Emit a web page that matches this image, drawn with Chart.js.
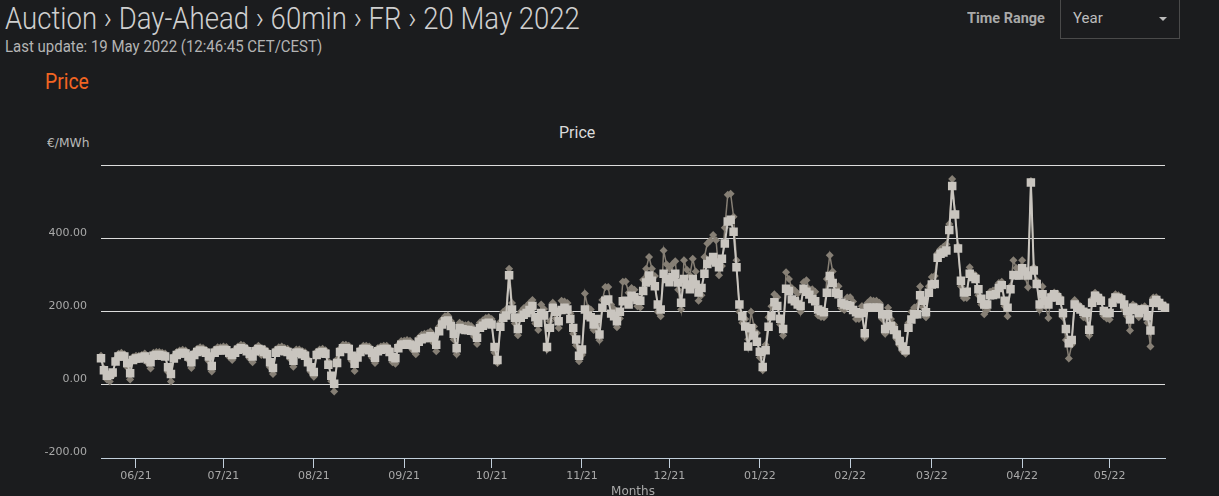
<!DOCTYPE html>
<html>
<head>
<meta charset="utf-8">
<script src="https://cdn.jsdelivr.net/npm/chart.js@4.4.0/dist/chart.umd.min.js"></script>
<style>
  html, body { margin: 0; padding: 0; background: #1b1c1e; width: 1219px; height: 496px; overflow: hidden; }
  .txt { position: absolute; white-space: nowrap; line-height: 1; font-family: Roboto, sans-serif; transform-origin: 0 50%; }
  #title { left: 5px; top: 3px; font-size: 31px; color: #cfcfcf; font-weight: 300; }
  #updated { left: 5px; top: 38px; font-size: 17px; color: #b4b4b4; }
  #section { left: 45px; top: 71px; font-size: 22px; color: #f26522; }
  #chartTitle { left: 559px; top: 125px; font-size: 16px; color: #dadada; }
  #unit { left: 47px; top: 137px; font-size: 12px; color: #b8b8b8; font-family: "DejaVu Sans", sans-serif; }
  #rangeLabel { left: 967px; top: 11px; font-size: 15px; font-weight: bold; color: #a9a9a9; }
  #rangeBox { position: absolute; left: 1060px; top: -1px; width: 118px; height: 38px; border: 1px solid #4a4a4a; }
  #rangeValue { left: 1073px; top: 11px; font-size: 15px; color: #bdbdbd; }
  #caret { position: absolute; left: 1159px; top: 17px; width: 0; height: 0;
           border-left: 4px solid transparent; border-right: 4px solid transparent; border-top: 4px solid #bbb; }
  #wrap { position: absolute; left: 0; top: 145px; width: 1219px; height: 358px; }
</style>
</head>
<body>
<div class="txt" id="title" data-w="575">Auction › Day-Ahead › 60min › FR › 20 May 2022</div>
<div class="txt" id="updated" data-w="317">Last update: 19 May 2022 (12:46:45 CET/CEST)</div>
<div class="txt" id="section" data-w="44">Price</div>
<div class="txt" id="chartTitle" data-w="36">Price</div>
<div class="txt" id="unit" data-w="43">€/MWh</div>
<div class="txt" id="rangeLabel" data-w="78">Time Range</div>
<div id="rangeBox"></div>
<div class="txt" id="rangeValue" data-w="30">Year</div>
<div id="caret"></div>
<div id="wrap"><canvas id="myChart"></canvas></div>

<script>
"use strict";

// one value per day, starting 20 May 2021 (day 0) up to 20 May 2022 (day 365)
var basePrice = [
    73, 40, 25, 28, 34, 64, 78,
    80, 78, 60, 32, 68, 72, 72,
    75, 78, 70, 62, 80, 82, 82,
    80, 78, 48, 30, 72, 82, 86,
    88, 86, 78, 62, 82, 90, 94,
    92, 88, 78, 52, 88, 94, 94,
    96, 95, 88, 82, 88, 96, 100,
    98, 92, 85, 78, 92, 98, 96,
    90, 84, 62, 46, 88, 94, 95,
    92, 90, 82, 66, 88, 88, 84,
    80, 62, 48, 35, 82, 88, 90,
    85, 55, 25, 3, 60, 90, 100,
    100, 98, 80, 58, 75, 90, 98,
    98, 95, 88, 74, 92, 96, 98,
    98, 90, 76, 73, 100, 110, 110,
    112, 110, 108, 100, 118, 125, 128,
    128, 133, 130, 110, 147, 165, 174,
    176, 161, 140, 100, 156, 152, 150,
    150, 148, 147, 129, 156, 162, 168,
    170, 165, 104, 68, 159, 184, 190,
    300, 206, 184, 153, 184, 192, 197,
    205, 216, 185, 170, 197, 190, 104,
    156, 211, 200, 174, 205, 211, 206,
    180, 156, 124, 80, 97, 206, 190,
    185, 165, 180, 138, 211, 230, 234,
    195, 188, 174, 200, 229, 230, 220,
    244, 240, 232, 230, 257, 280, 299,
    285, 270, 220, 206, 304, 290, 281,
    295, 304, 280, 225, 290, 275, 262,
    290, 275, 253, 265, 304, 331, 340,
    350, 335, 322, 345, 387, 447, 452,
    419, 322, 220, 188, 160, 105, 155,
    135, 118, 91, 49, 95, 159, 188,
    226, 216, 181, 153, 263, 257, 234,
    229, 220, 216, 263, 255, 247, 235,
    229, 206, 202, 199, 252, 298, 279,
    252, 248, 225, 220, 218, 216, 205,
    199, 195, 197, 141, 211, 211, 211,
    211, 211, 193, 153, 193, 161, 150,
    138, 120, 105, 95, 156, 179, 193,
    193, 245, 230, 199, 252, 275, 276,
    348, 359, 362, 368, 424, 544, 466,
    373, 285, 253, 255, 304, 295, 290,
    262, 236, 220, 220, 245, 246, 248,
    265, 273, 230, 211, 262, 301, 300,
    299, 319, 310, 299, 554, 313, 276,
    220, 248, 230, 220, 239, 248, 240,
    230, 197, 153, 114, 123, 220, 212,
    206, 200, 197, 151, 225, 244, 238,
    230, 202, 197, 197, 225, 239, 237,
    234, 220, 202, 179, 211, 205, 197,
    206, 206, 188, 149, 225, 232, 224,
    216, 211
];

var peakPrice = [
    80, 45, 15, 9, 25, 70, 85,
    88, 84, 48, 15, 76, 80, 80,
    82, 86, 60, 45, 88, 90, 90,
    88, 86, 35, 9, 80, 90, 94,
    96, 94, 68, 46, 90, 99, 103,
    101, 96, 65, 37, 97, 103, 103,
    105, 104, 76, 68, 97, 105, 110,
    108, 101, 72, 62, 101, 107, 82,
    99, 92, 48, 30, 97, 103, 105,
    101, 99, 70, 50, 97, 97, 93,
    89, 70, 35, 22, 91, 97, 99,
    95, 64, 10, -18, 70, 99, 110,
    110, 107, 66, 38, 84, 99, 107,
    107, 105, 74, 60, 101, 105, 107,
    107, 99, 62, 58, 110, 120, 121,
    123, 121, 94, 84, 129, 137, 140,
    141, 146, 115, 92, 160, 178, 188,
    190, 175, 124, 84, 170, 165, 163,
    165, 161, 132, 112, 171, 177, 183,
    185, 180, 88, 60, 173, 200, 207,
    318, 224, 168, 136, 200, 210, 216,
    224, 232, 168, 150, 220, 208, 97,
    174, 225, 182, 156, 230, 228, 224,
    196, 140, 108, 65, 82, 250, 212,
    206, 150, 165, 122, 232, 268, 268,
    220, 208, 158, 182, 282, 283, 252,
    265, 260, 215, 212, 288, 318, 350,
    318, 298, 200, 188, 368, 330, 318,
    330, 338, 260, 206, 341, 315, 300,
    345, 310, 230, 245, 350, 387, 395,
    410, 396, 300, 325, 430, 520, 523,
    460, 341, 200, 170, 180, 125, 200,
    160, 142, 75, 40, 110, 185, 215,
    248, 240, 165, 135, 308, 290, 265,
    258, 250, 200, 281, 286, 262, 262,
    255, 190, 186, 185, 290, 355, 310,
    271, 270, 210, 205, 239, 240, 228,
    180, 180, 215, 128, 225, 232, 230,
    230, 225, 180, 140, 211, 180, 165,
    125, 108, 92, 85, 170, 200, 212,
    215, 269, 212, 185, 270, 295, 298,
    360, 372, 378, 385, 440, 563, 470,
    380, 270, 238, 238, 322, 305, 300,
    245, 220, 193, 205, 255, 258, 262,
    279, 282, 215, 188, 270, 341, 320,
    315, 341, 295, 267, 558, 322, 285,
    205, 269, 215, 183, 248, 253, 250,
    240, 185, 123, 72, 110, 232, 222,
    215, 185, 182, 135, 235, 252, 245,
    238, 188, 182, 179, 235, 248, 245,
    242, 205, 188, 149, 220, 215, 185,
    212, 215, 170, 105, 239, 240, 230,
    222, 218
];

// first day of each month, counted in days from 20 May 2021
var monthTicks = [12, 42, 73, 104, 134, 165, 195, 226, 257, 285, 316, 346];
var monthLabels = ["06/21", "07/21", "08/21", "09/21", "10/21", "11/21", "12/21",
                   "01/22", "02/22", "03/22", "04/22", "05/22"];
var yTicks = [-200, 0, 200, 400, 600];

// squeeze the header texts to the condensed width of the original font
document.querySelectorAll(".txt").forEach(function (el) {
    var w = parseFloat(el.getAttribute("data-w"));
    el.style.transform = "scaleX(" + (w / el.offsetWidth) + ")";
});

function toPoints(values) {
    return values.map(function (v, i) { return {x: i, y: v}; });
}

Chart.defaults.font.family = "'DejaVu Sans', sans-serif";
Chart.defaults.font.size = 11;

var ctx = document.getElementById("myChart").getContext("2d");
var chart = new Chart(ctx, {
    type: "line",
    data: {
        datasets: [{
            label: "Base",
            data: toPoints(basePrice),
            borderColor: "#c9c5bf",
            backgroundColor: "#c9c5bf",
            borderWidth: 2,
            pointStyle: "rect",
            pointRadius: 6,
            pointBorderWidth: 0,
            tension: 0,
            clip: 10
        }, {
            label: "Peak",
            data: toPoints(peakPrice),
            borderColor: "#867f75",
            backgroundColor: "#867f75",
            borderWidth: 1.5,
            pointStyle: "rectRot",
            pointRadius: 4,
            pointBorderWidth: 0,
            tension: 0,
            clip: 10
        }]
    },
    options: {
        responsive: true,
        maintainAspectRatio: false,
        animation: false,
        layout: {padding: {left: 0, right: 54, top: 0, bottom: 0}},
        plugins: {legend: {display: false}, tooltip: {enabled: false}},
        scales: {
            x: {
                type: "linear",
                min: 0,
                max: basePrice.length - 1,
                afterBuildTicks: function (scale) {
                    scale.ticks = monthTicks.map(function (v) { return {value: v}; });
                },
                afterFit: function (scale) { scale.height = 45; },
                grid: {drawOnChartArea: false, drawTicks: true, tickLength: 10, color: "#c2cfdb"},
                border: {color: "#c2cfdb", width: 1},
                ticks: {
                    autoSkip: false,
                    maxRotation: 0,
                    padding: 2,
                    color: "#a9a9a9",
                    callback: function (value, index) { return monthLabels[index]; }
                },
                title: {display: true, text: "Months", color: "#a9a9a9", font: {size: 12}, padding: {top: 4, bottom: 4}}
            },
            y: {
                min: -200,
                max: 600,
                afterBuildTicks: function (scale) {
                    scale.ticks = yTicks.map(function (v) { return {value: v}; });
                },
                afterFit: function (scale) { scale.width = 101; },
                grid: {color: "#dcdcdc", drawTicks: false, lineWidth: 1},
                border: {display: false},
                ticks: {
                    padding: 14,
                    labelOffset: -6,
                    color: "#a9a9a9",
                    callback: function (value) { return value === 600 ? "" : value.toFixed(2); }
                }
            }
        }
    }
});
</script>
</body>
</html>
